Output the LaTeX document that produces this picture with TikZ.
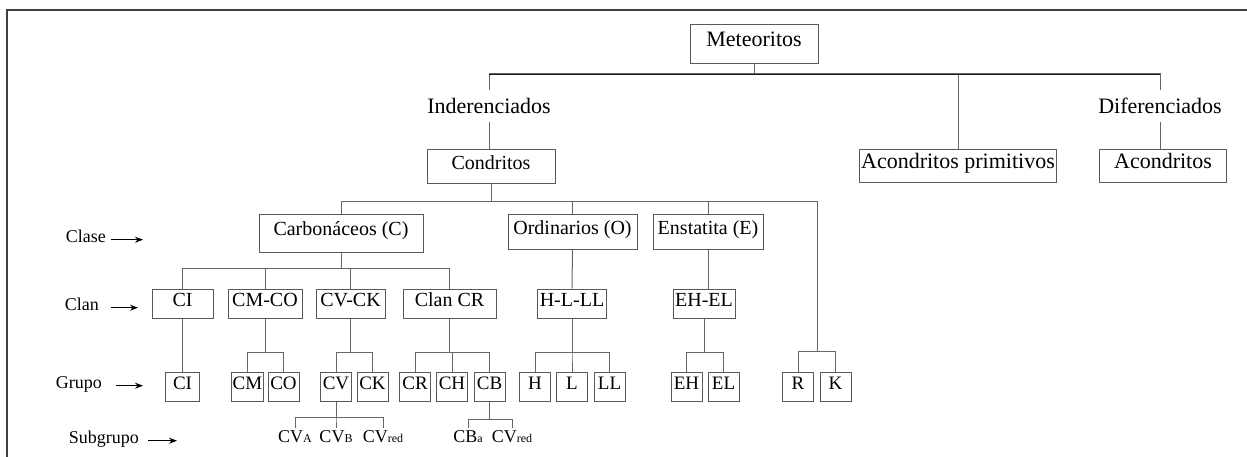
\documentclass[tikz,border=0pt]{standalone}
\usepackage{fontspec}
\setmainfont{Liberation Serif}
\usepackage{tikz}
\usetikzlibrary{arrows.meta}

\begin{document}
\begin{tikzpicture}[x=1pt,y=-1pt,
		caja/.style={draw=black!65, line width=1pt, fill=white, inner xsep=2pt, inner ysep=0pt, text height=0.7em, text depth=0.2em},
		grande/.style={font=\fontsize{22}{26}\selectfont},
		medio/.style={font=\fontsize{20}{24}\selectfont},
		clanbox/.style={caja, medio, minimum height=29},
		grupobox/.style={caja, font=\fontsize{19}{22}\selectfont, inner xsep=1pt, minimum width=31, minimum height=29},
		linea/.style={draw=black!60, line width=1pt},
		etiq/.style={font=\fontsize{18}{21}\selectfont, inner sep=0pt},
		flecha/.style={line width=0.9pt, -{Stealth[length=8pt,width=6pt]}},
		subg/.style={font=\fontsize{18}{21}\selectfont, inner sep=2pt, anchor=base}]
	\useasboundingbox (0,0) rectangle (1247,457);
	
	% Marco
	\draw[line width=2.5pt, black!75] (7,457) -- (7,10) -- (1247,10);
	
	% Nivel superior
	\node[caja, grande, minimum width=128, minimum height=39] (met) at (754,44.5) {Meteoritos};
	\node[grande, inner xsep=0pt, inner ysep=8pt] (inder) at (489,106) {Inderenciados};
	\node[grande, inner xsep=0pt, inner ysep=8pt] (difer) at (1160,106) {Diferenciados};
	\node[caja, grande, minimum width=192, minimum height=33] (acprim) at (958,166.5) {Acondritos primitivos};
	\node[caja, grande, minimum width=127, minimum height=33] (acon) at (1163,166.5) {Acondritos};
	\node[caja, medio, minimum width=128, minimum height=34] (cond) at (491,167) {Condritos};
	
	% Clases
	\node[caja, medio, minimum width=164, minimum height=37] (carb) at (341,233.5) {Carbonáceos (C)};
	\node[caja, medio, minimum width=129, minimum height=34] (ordi) at (572.5,232) {Ordinarios (O)};
	\node[caja, medio, minimum width=110, minimum height=34] (enst) at (708,232) {Enstatita (E)};
	
	% Clanes
	\node[clanbox, minimum width=61] (ci) at (182.5,303.5) {CI};
	\node[clanbox, minimum width=74] (cmco) at (265,303.5) {CM-CO};
	\node[clanbox, minimum width=69] (cvck) at (350.5,303.5) {CV-CK};
	\node[clanbox, minimum width=93] (clancr) at (449.5,303.5) {Clan CR};
	\node[clanbox, minimum width=69] (hlll) at (572,303.5) {H-L-LL};
	\node[clanbox, minimum width=62] (ehel) at (704,303.5) {EH-EL};
	
	% Grupos
	\node[grupobox, minimum width=34] (gci) at (182.5,386.5) {CI};
	\node[grupobox] (cm) at (247.5,386.5) {CM};
	\node[grupobox] (co) at (283.5,386.5) {CO};
	\node[grupobox] (cv) at (336,386.5) {CV};
	\node[grupobox] (ck) at (372.5,386.5) {CK};
	\node[grupobox] (cr) at (415,386.5) {CR};
	\node[grupobox] (ch) at (452,386.5) {CH};
	\node[grupobox] (cb) at (489.5,386.5) {CB};
	\node[grupobox] (h) at (535,386.5) {H};
	\node[grupobox] (l) at (572,386.5) {L};
	\node[grupobox] (ll) at (609.5,386.5) {LL};
	\node[grupobox] (eh) at (686.5,386.5) {EH};
	\node[grupobox] (el) at (723.5,386.5) {EL};
	\node[grupobox] (r) at (798,386.5) {R};
	\node[grupobox] (k) at (835.5,386.5) {K};
	
	% Subgrupos
	\node[subg] (cva) at (295,442) {CV{\fontsize{12}{12}\selectfont A}};
	\node[subg] (cvb) at (336,442) {CV{\fontsize{12}{12}\selectfont B}};
	\node[subg] (cvred) at (383,442) {CV{\fontsize{12}{12}\selectfont red}};
	\node[subg] (cba) at (468,442) {CB{\fontsize{12}{12}\selectfont a}};
	\node[subg] (cbred) at (512,442) {CV{\fontsize{12}{12}\selectfont red}};
	
	% Etiquetas de nivel
	\node[etiq, anchor=base east] (lclase) at (106,242) {Clase};
	\node[etiq, anchor=base east] (lclan) at (99,310) {Clan};
	\node[etiq, anchor=base east] (lgrupo) at (102,388) {Grupo};
	\node[etiq, anchor=base east] (lsub) at (139,443) {Subgrupo};
	\draw[flecha] ([xshift=5]lclase.mid east) -- ++(32,0);
	\draw[flecha] ([xshift=12]lclan.mid east) -- ++(27,0);
	\draw[flecha] ([xshift=14]lgrupo.mid east) -- ++(27,0);
	\draw[flecha] ([xshift=9]lsub.mid east) -- ++(29,0);
	
	% Conectores
	\coordinate (rama1) at (754,74);
	\coordinate (rk) at (817,351);
	\draw[linea] (met) -- (rama1);
	\foreach \h in {inder,acprim,difer}
		\draw[linea] (rama1) -| (\h.north);
	\draw[black!90, line width=0.9pt] (inder.north |- rama1) -- (difer.north |- rama1);
	\draw[linea] (inder.south) -- (inder.south |- cond.north);
	\draw[linea] (difer.south) -- (difer.south |- acon.north);
	
	\foreach \h in {carb,ordi,enst,rk}
		\draw[linea] (cond.south) -- ++(0,17) -| (\h);
	\draw[linea] (rk) -| (r.north);
	\draw[linea] (rk) -| (k.north);
	
	\foreach \h in {ci,cmco,cvck,clancr}
		\draw[linea] (carb.south) -- ++(0,16) -| (\h.north);
	\draw[linea] (ordi) -- (hlll);
	\draw[linea] (enst.south) -- (enst.south |- ehel.north);
	\draw[linea] (ci) -- (gci);
	
	\foreach \p/\h in {cmco/cm, cmco/co, cvck/cv, cvck/ck, clancr/cr, clancr/ch, clancr/cb, hlll/h, hlll/l, hlll/ll, ehel/eh, ehel/el}
		\draw[linea] (\p.south) -- ++(0,34) -| (\h.north);
	
	\foreach \h in {cva,cvb,cvred}
		\draw[linea] (cv.south) -- ++(0,16) -| (\h.north);
	\foreach \h in {cba,cbred}
		\draw[linea] (cb.south) -- ++(0,18) -| (\h.north);
\end{tikzpicture}
\end{document}
